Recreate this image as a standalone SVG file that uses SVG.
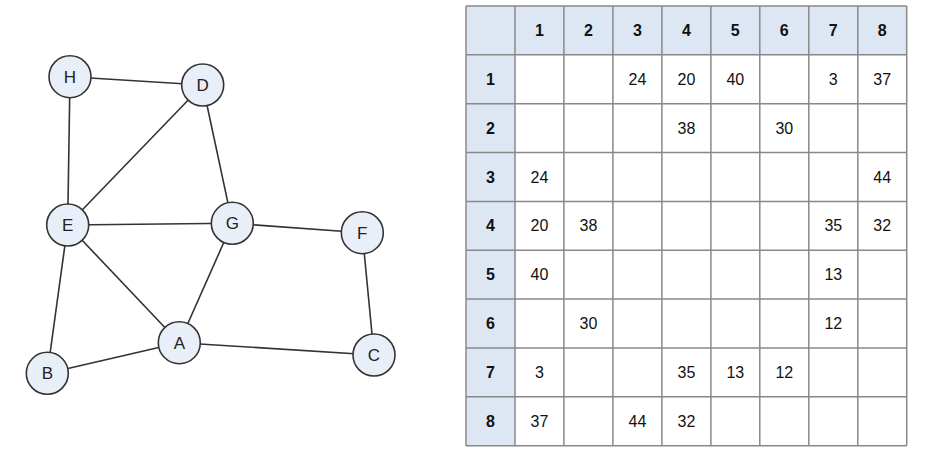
<svg xmlns="http://www.w3.org/2000/svg" width="938" height="452" viewBox="0 0 938 452">
<style>
.edge{stroke:#333;stroke-width:1.6;fill:none}
.node circle{fill:#e9eff8;stroke:#333;stroke-width:1.6}
.node text{font-family:"Liberation Sans",Arial,sans-serif;font-size:17px;fill:#222;text-anchor:middle}
.hdr{fill:#dde7f3}
.grid{stroke:#888;stroke-width:1.5}
.th{font-family:"Liberation Sans",Arial,sans-serif;font-size:16px;font-weight:bold;fill:#111;text-anchor:middle}
.td{font-family:"Liberation Sans",Arial,sans-serif;font-size:16px;fill:#111;text-anchor:middle}
</style>
<rect width="938" height="452" fill="#fff"/>
<g id="connectors">
<line class="edge" x1="70" y1="76.7" x2="202.7" y2="85"/>
<line class="edge" x1="70" y1="76.7" x2="67.7" y2="225"/>
<line class="edge" x1="202.7" y1="85" x2="67.7" y2="225"/>
<line class="edge" x1="202.7" y1="85" x2="232.3" y2="223.3"/>
<line class="edge" x1="67.7" y1="225" x2="232.3" y2="223.3"/>
<line class="edge" x1="232.3" y1="223.3" x2="362.3" y2="232.7"/>
<line class="edge" x1="67.7" y1="225" x2="179.3" y2="342.7"/>
<line class="edge" x1="232.3" y1="223.3" x2="179.3" y2="342.7"/>
<line class="edge" x1="67.7" y1="225" x2="47.3" y2="373.3"/>
<line class="edge" x1="47.3" y1="373.3" x2="179.3" y2="342.7"/>
<line class="edge" x1="179.3" y1="342.7" x2="374" y2="355"/>
<line class="edge" x1="362.3" y1="232.7" x2="374" y2="355"/>
</g>
<g id="node-H" class="node"><circle cx="70" cy="76.7" r="21"/><text x="70" y="82.7">H</text></g>
<g id="node-D" class="node"><circle cx="202.7" cy="85" r="21"/><text x="202.7" y="91">D</text></g>
<g id="node-E" class="node"><circle cx="67.7" cy="225" r="21"/><text x="67.7" y="231">E</text></g>
<g id="node-G" class="node"><circle cx="232.3" cy="223.3" r="21"/><text x="232.3" y="229.3">G</text></g>
<g id="node-F" class="node"><circle cx="362.3" cy="232.7" r="21"/><text x="362.3" y="238.7">F</text></g>
<g id="node-A" class="node"><circle cx="179.3" cy="342.7" r="21"/><text x="179.3" y="348.7">A</text></g>
<g id="node-C" class="node"><circle cx="374" cy="355" r="21"/><text x="374" y="361">C</text></g>
<g id="node-B" class="node"><circle cx="47.3" cy="373.3" r="21"/><text x="47.3" y="379.3">B</text></g>
<g id="matrix">
<rect class="hdr" x="466" y="6" width="440.7" height="48.85"/>
<rect class="hdr" x="466" y="6" width="49" height="439.65"/>
<rect x="515" y="54.85" width="391.7" height="390.8" fill="#fff"/>
<g class="grid">
<line x1="466" y1="6" x2="466" y2="445.65"/>
<line x1="515" y1="6" x2="515" y2="445.65"/>
<line x1="563.9" y1="6" x2="563.9" y2="445.65"/>
<line x1="612.9" y1="6" x2="612.9" y2="445.65"/>
<line x1="661.9" y1="6" x2="661.9" y2="445.65"/>
<line x1="710.9" y1="6" x2="710.9" y2="445.65"/>
<line x1="759.8" y1="6" x2="759.8" y2="445.65"/>
<line x1="808.8" y1="6" x2="808.8" y2="445.65"/>
<line x1="857.8" y1="6" x2="857.8" y2="445.65"/>
<line x1="906.7" y1="6" x2="906.7" y2="445.65"/>
<line x1="466" y1="6" x2="906.7" y2="6"/>
<line x1="466" y1="54.85" x2="906.7" y2="54.85"/>
<line x1="466" y1="103.7" x2="906.7" y2="103.7"/>
<line x1="466" y1="152.55" x2="906.7" y2="152.55"/>
<line x1="466" y1="201.4" x2="906.7" y2="201.4"/>
<line x1="466" y1="250.25" x2="906.7" y2="250.25"/>
<line x1="466" y1="299.1" x2="906.7" y2="299.1"/>
<line x1="466" y1="347.95" x2="906.7" y2="347.95"/>
<line x1="466" y1="396.8" x2="906.7" y2="396.8"/>
<line x1="466" y1="445.65" x2="906.7" y2="445.65"/>
</g>
<g class="th">
<text x="539.5" y="36">1</text><text x="588.4" y="36">2</text><text x="637.4" y="36">3</text><text x="686.4" y="36">4</text><text x="735.3" y="36">5</text><text x="784.3" y="36">6</text><text x="833.3" y="36">7</text><text x="882.2" y="36">8</text>
<text x="490.5" y="84.9">1</text><text x="490.5" y="133.7">2</text><text x="490.5" y="182.6">3</text><text x="490.5" y="231.4">4</text><text x="490.5" y="280.3">5</text><text x="490.5" y="329.1">6</text><text x="490.5" y="378">7</text><text x="490.5" y="426.8">8</text>
</g>
<g class="td">
<text x="637.4" y="84.9">24</text><text x="686.4" y="84.9">20</text><text x="735.3" y="84.9">40</text><text x="833.3" y="84.9">3</text><text x="882.2" y="84.9">37</text>
<text x="686.4" y="133.7">38</text><text x="784.3" y="133.7">30</text>
<text x="539.5" y="182.6">24</text><text x="882.2" y="182.6">44</text>
<text x="539.5" y="231.4">20</text><text x="588.4" y="231.4">38</text><text x="833.3" y="231.4">35</text><text x="882.2" y="231.4">32</text>
<text x="539.5" y="280.3">40</text><text x="833.3" y="280.3">13</text>
<text x="588.4" y="329.1">30</text><text x="833.3" y="329.1">12</text>
<text x="539.5" y="378">3</text><text x="686.4" y="378">35</text><text x="735.3" y="378">13</text><text x="784.3" y="378">12</text>
<text x="539.5" y="426.8">37</text><text x="637.4" y="426.8">44</text><text x="686.4" y="426.8">32</text>
</g>
</g>
</svg>
